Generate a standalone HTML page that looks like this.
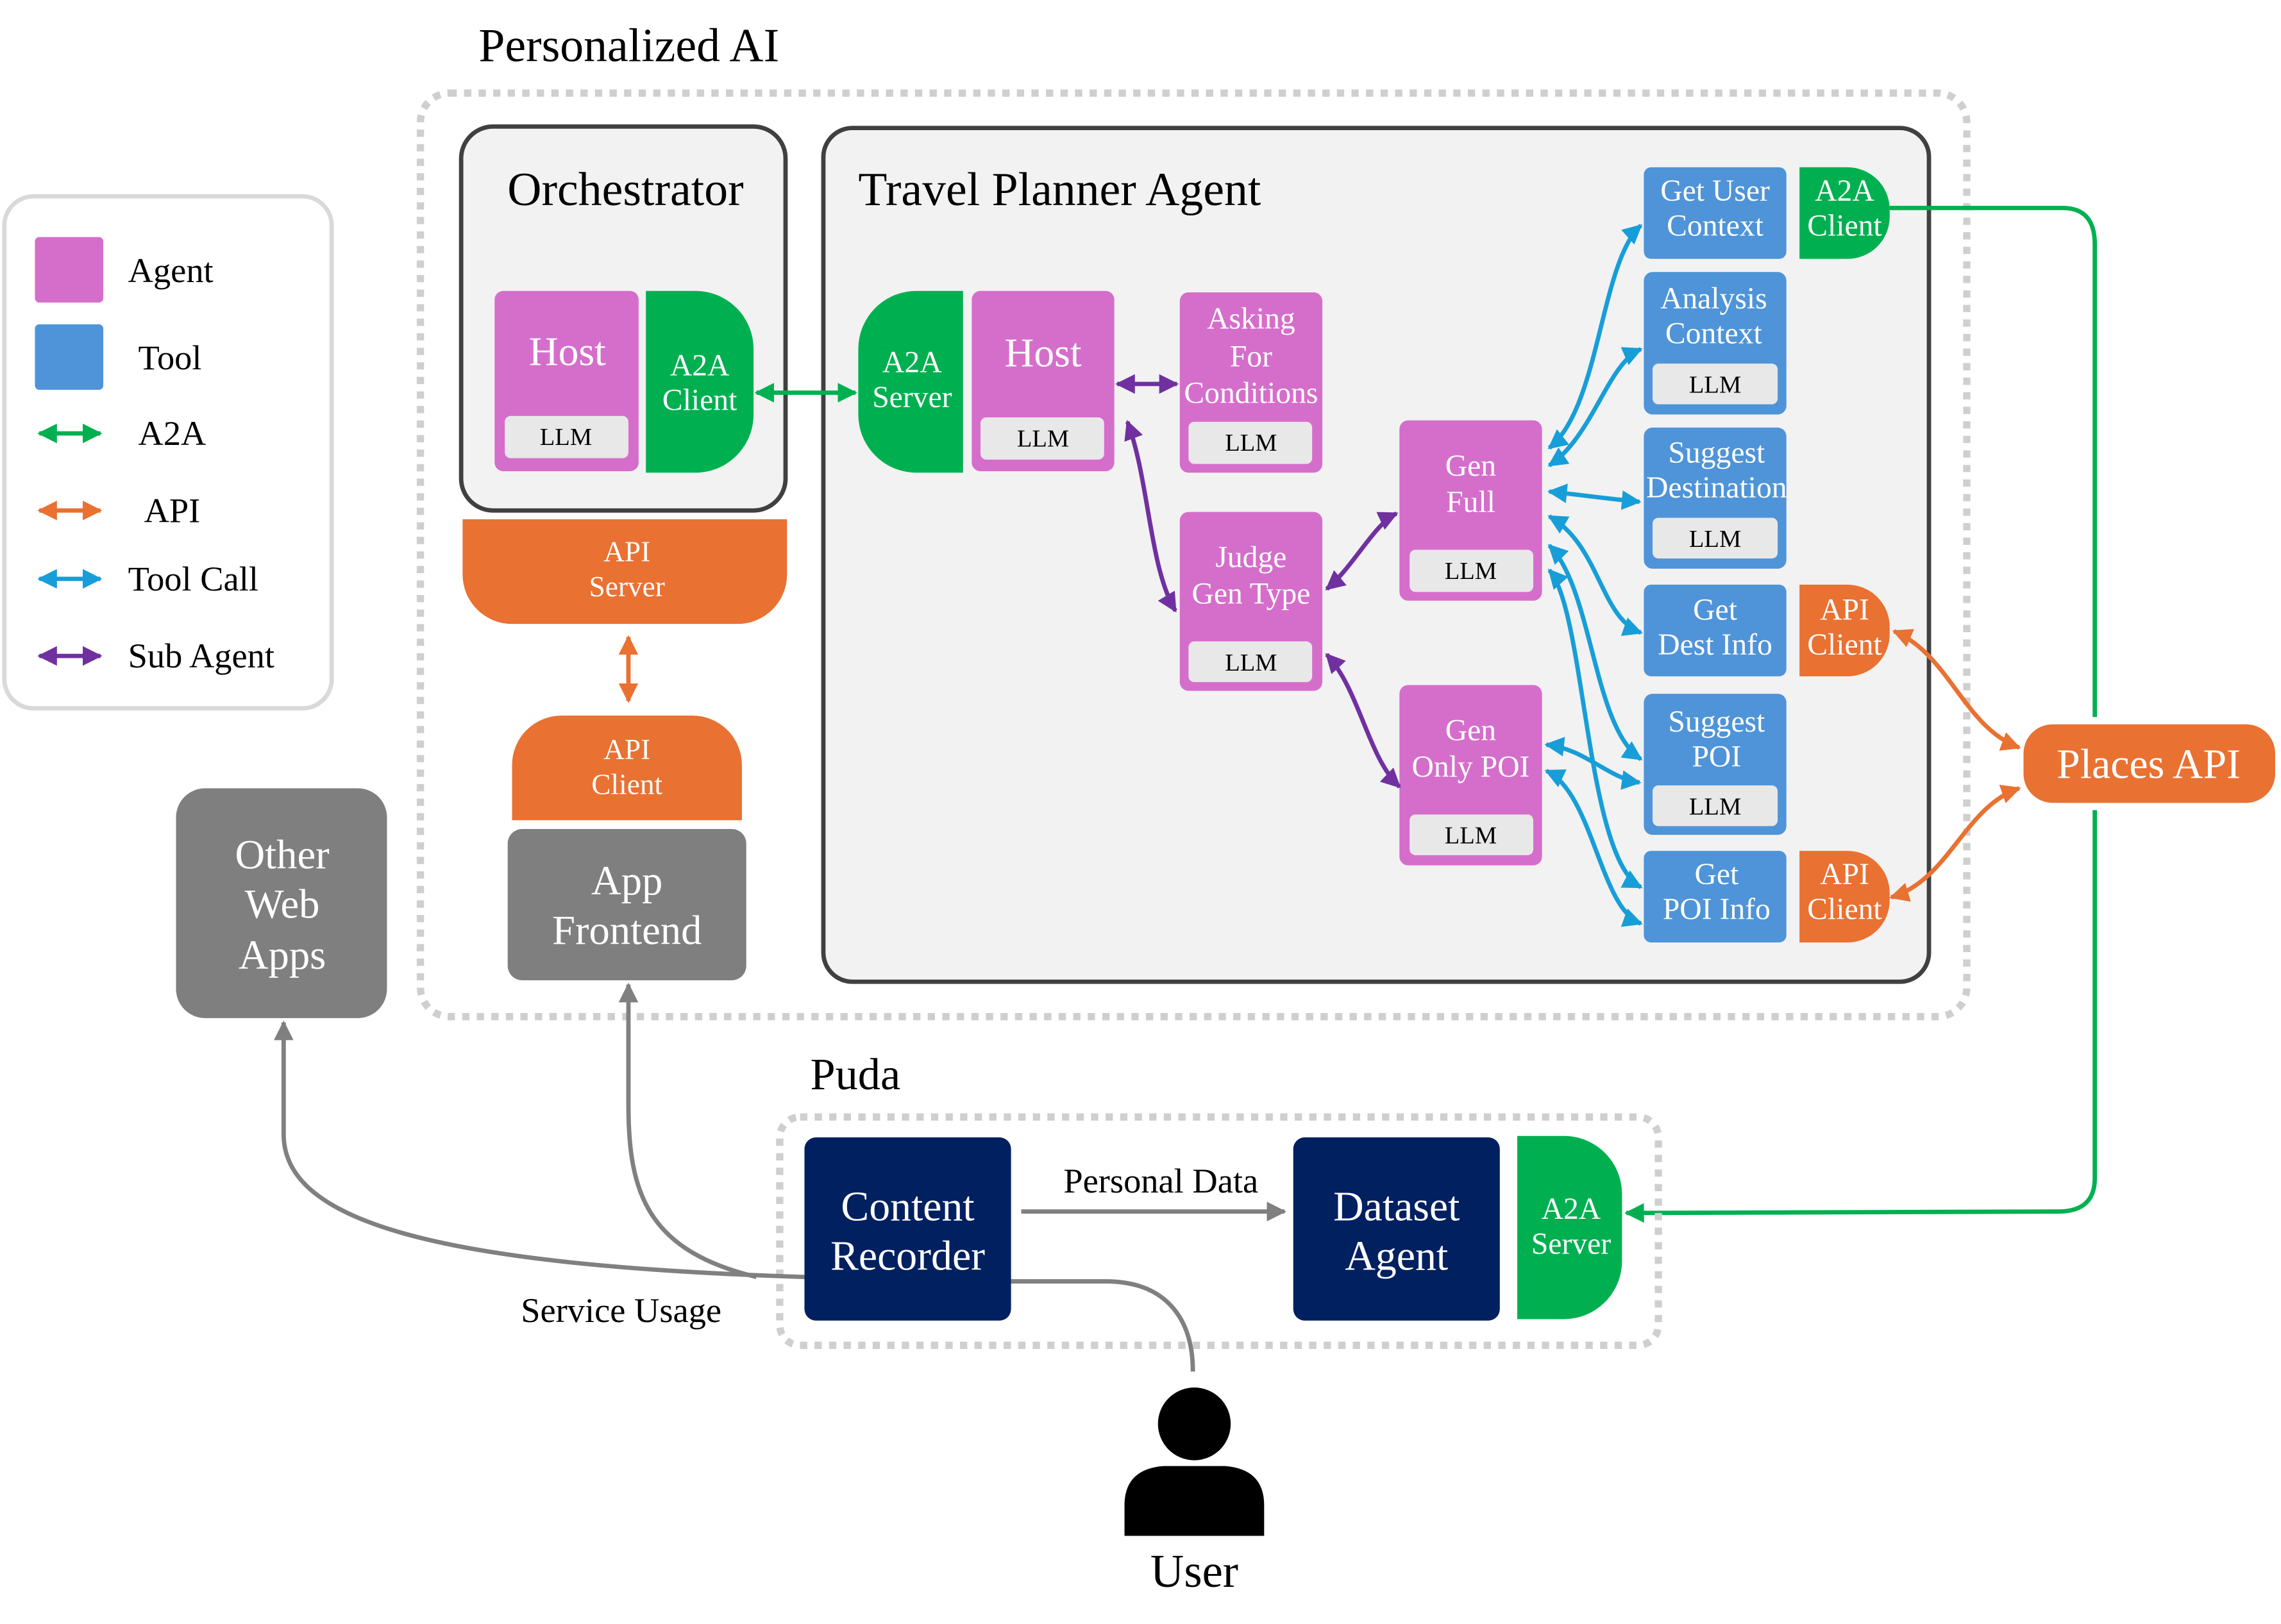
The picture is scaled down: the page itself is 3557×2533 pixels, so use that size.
<!DOCTYPE html>
<html><head><meta charset="utf-8"><style>
html,body{margin:0;padding:0;background:#fff}
svg{display:block}
text{font-family:"Liberation Serif",serif}
</style></head><body>
<svg width="3557" height="2533" viewBox="0 0 1568 1116.6" xmlns="http://www.w3.org/2000/svg">
<defs>
<marker id="g" viewBox="0 0 10 10" refX="9" refY="5" markerWidth="4.5" markerHeight="4.5" orient="auto-start-reverse" markerUnits="strokeWidth"><path d="M0,0L10,5L0,10z" fill="#00b050"/></marker>
<marker id="o" viewBox="0 0 10 10" refX="9" refY="5" markerWidth="4.5" markerHeight="4.5" orient="auto-start-reverse" markerUnits="strokeWidth"><path d="M0,0L10,5L0,10z" fill="#e97132"/></marker>
<marker id="b" viewBox="0 0 10 10" refX="9" refY="5" markerWidth="4.5" markerHeight="4.5" orient="auto-start-reverse" markerUnits="strokeWidth"><path d="M0,0L10,5L0,10z" fill="#179ed8"/></marker>
<marker id="p" viewBox="0 0 10 10" refX="9" refY="5" markerWidth="4.5" markerHeight="4.5" orient="auto-start-reverse" markerUnits="strokeWidth"><path d="M0,0L10,5L0,10z" fill="#7030a0"/></marker>
<marker id="k" viewBox="0 0 10 10" refX="9" refY="5" markerWidth="4.5" markerHeight="4.5" orient="auto-start-reverse" markerUnits="strokeWidth"><path d="M0,0L10,5L0,10z" fill="#808080"/></marker>
</defs>
<rect width="1568" height="1117" fill="#fff"/>

<!-- Legend -->
<rect x="3" y="135" width="225" height="352" rx="20" fill="#fff" stroke="#d9d9d9" stroke-width="3"/>
<rect x="24" y="163" width="47" height="45" rx="3" fill="#d56ecb"/>
<rect x="24" y="223" width="47" height="45" rx="3" fill="#4f94d8"/>
<g font-size="24" fill="#000">
<text x="88" y="194">Agent</text><text x="95" y="254">Tool</text>
<text x="95" y="306">A2A</text><text x="99" y="359">API</text>
<text x="88" y="406">Tool Call</text><text x="88" y="459">Sub Agent</text></g>
<g stroke-width="3" fill="none">
<path d="M27,298H69" stroke="#00b050" marker-start="url(#g)" marker-end="url(#g)"/>
<path d="M27,351H69" stroke="#e97132" marker-start="url(#o)" marker-end="url(#o)"/>
<path d="M27,398H69" stroke="#179ed8" marker-start="url(#b)" marker-end="url(#b)"/>
<path d="M27,451H69" stroke="#7030a0" marker-start="url(#p)" marker-end="url(#p)"/>
</g>

<!-- Personalized AI -->
<text x="329" y="42" font-size="32.5">Personalized AI</text>
<rect x="289" y="64" width="1063" height="635" rx="20" fill="none" stroke="#cfcfcf" stroke-width="5" stroke-dasharray="5 5"/>

<!-- Orchestrator -->
<rect x="317" y="87" width="223" height="264" rx="22" fill="#f2f2f2" stroke="#404040" stroke-width="3"/>
<text x="430" y="141" font-size="32.5" text-anchor="middle">Orchestrator</text>
<rect x="340" y="200" width="99" height="124" rx="6" fill="#d56ecb"/>
<text x="390" y="251" font-size="28" fill="#fff" text-anchor="middle">Host</text>
<rect x="347" y="286" width="85" height="29" rx="4" fill="#e8e8e8"/>
<text x="389" y="306" font-size="17" text-anchor="middle">LLM</text>
<path d="M444,200H478A40,40 0 0 1 518,240V285A40,40 0 0 1 478,325H444Z" fill="#00b050"/>
<text x="481" y="258" font-size="21" fill="#fff" text-anchor="middle">A2A</text>
<text x="481" y="282" font-size="21" fill="#fff" text-anchor="middle">Client</text>

<path d="M318,357H541V395A34,34 0 0 1 507,429H352A34,34 0 0 1 318,395Z" fill="#e97132"/>
<text x="431" y="386" font-size="20" fill="#fff" text-anchor="middle">API</text>
<text x="431" y="410" font-size="20" fill="#fff" text-anchor="middle">Server</text>
<path d="M432,438V482" stroke="#e97132" stroke-width="3" marker-start="url(#o)" marker-end="url(#o)"/>
<path d="M352,564V526A34,34 0 0 1 386,492H476A34,34 0 0 1 510,526V564Z" fill="#e97132"/>
<text x="431" y="522" font-size="20" fill="#fff" text-anchor="middle">API</text>
<text x="431" y="546" font-size="20" fill="#fff" text-anchor="middle">Client</text>
<rect x="349" y="570" width="164" height="104" rx="10" fill="#7f7f7f"/>
<text x="431" y="615" font-size="28.5" fill="#fff" text-anchor="middle">App</text>
<text x="431" y="649" font-size="28.5" fill="#fff" text-anchor="middle">Frontend</text>

<rect x="121" y="542" width="145" height="158" rx="20" fill="#7f7f7f"/>
<text x="194" y="597" font-size="28.5" fill="#fff" text-anchor="middle">Other</text>
<text x="194" y="631" font-size="28.5" fill="#fff" text-anchor="middle">Web</text>
<text x="194" y="666" font-size="28.5" fill="#fff" text-anchor="middle">Apps</text>

<!-- Travel Planner -->
<rect x="566" y="88" width="760" height="587" rx="20" fill="#f2f2f2" stroke="#404040" stroke-width="3"/>
<text x="590" y="141" font-size="32.5">Travel Planner Agent</text>
<path d="M520,270H588" stroke="#00b050" stroke-width="3" marker-start="url(#g)" marker-end="url(#g)"/>
<path d="M662,200H630A40,40 0 0 0 590,240V285A40,40 0 0 0 630,325H662Z" fill="#00b050"/>
<text x="627" y="256" font-size="21" fill="#fff" text-anchor="middle">A2A</text>
<text x="627" y="280" font-size="21" fill="#fff" text-anchor="middle">Server</text>
<rect x="668" y="200" width="98" height="124" rx="6" fill="#d56ecb"/>
<text x="717" y="252" font-size="28" fill="#fff" text-anchor="middle">Host</text>
<rect x="674" y="287" width="85" height="29" rx="4" fill="#e8e8e8"/>
<text x="717" y="307" font-size="17" text-anchor="middle">LLM</text>

<g font-size="21" fill="#fff" text-anchor="middle">
<rect x="811" y="201" width="98" height="124" rx="6" fill="#d56ecb"/>
<text x="860" y="226">Asking</text><text x="860" y="252">For</text><text x="860" y="277">Conditions</text>
<rect x="811" y="352" width="98" height="123" rx="6" fill="#d56ecb"/>
<text x="860" y="390">Judge</text><text x="860" y="415">Gen Type</text>
<rect x="962" y="289" width="98" height="124" rx="6" fill="#d56ecb"/>
<text x="1011" y="327">Gen</text><text x="1011" y="352">Full</text>
<rect x="962" y="471" width="98" height="124" rx="6" fill="#d56ecb"/>
<text x="1011" y="509">Gen</text><text x="1011" y="534">Only POI</text>

<rect x="1130" y="115" width="98" height="63" rx="5" fill="#4f94d8"/>
<text x="1179" y="138">Get User</text><text x="1179" y="162">Context</text>
<rect x="1130" y="187" width="98" height="98" rx="6" fill="#4f94d8"/>
<text x="1178" y="212">Analysis</text><text x="1178" y="236">Context</text>
<rect x="1130" y="294" width="98" height="97" rx="6" fill="#4f94d8"/>
<text x="1180" y="318">Suggest</text><text x="1180" y="342">Destination</text>
<rect x="1130" y="402" width="98" height="63" rx="5" fill="#4f94d8"/>
<text x="1179" y="426">Get</text><text x="1179" y="450">Dest Info</text>
<rect x="1130" y="477" width="98" height="97" rx="6" fill="#4f94d8"/>
<text x="1180" y="503">Suggest</text><text x="1180" y="527">POI</text>
<rect x="1130" y="585" width="98" height="63" rx="5" fill="#4f94d8"/>
<text x="1180" y="608">Get</text><text x="1180" y="632">POI Info</text>

<path d="M1237,115H1270A29,29 0 0 1 1299,144V149A29,29 0 0 1 1270,178H1237Z" fill="#00b050"/>
<text x="1268" y="138">A2A</text><text x="1268" y="162">Client</text>
<path d="M1237,402H1270A29,29 0 0 1 1299,431V436A29,29 0 0 1 1270,465H1237Z" fill="#e97132"/>
<text x="1268" y="426">API</text><text x="1268" y="450">Client</text>
<path d="M1237,585H1270A29,29 0 0 1 1299,614V619A29,29 0 0 1 1270,648H1237Z" fill="#e97132"/>
<text x="1268" y="608">API</text><text x="1268" y="632">Client</text>
</g>
<g fill="#e8e8e8">
<rect x="817" y="290" width="85" height="29" rx="4"/>
<rect x="817" y="441" width="85" height="28" rx="4"/>
<rect x="969" y="378" width="85" height="29" rx="4"/>
<rect x="969" y="560" width="85" height="28" rx="4"/>
<rect x="1136" y="250" width="86" height="28" rx="4"/>
<rect x="1136" y="356" width="86" height="28" rx="4"/>
<rect x="1136" y="540" width="86" height="28" rx="4"/>
</g>
<g font-size="17" text-anchor="middle">
<text x="860" y="310">LLM</text><text x="860" y="461">LLM</text>
<text x="1011" y="398">LLM</text><text x="1011" y="580">LLM</text>
<text x="1179" y="270">LLM</text><text x="1179" y="376">LLM</text><text x="1179" y="560">LLM</text>
</g>

<!-- purple -->
<g stroke="#7030a0" stroke-width="3" fill="none" marker-start="url(#p)" marker-end="url(#p)">
<path d="M768,264H809"/>
<path d="M775,290C790,330 790,390 808,420"/>
<path d="M912,405C930,390 945,360 960,353"/>
<path d="M912,450C935,475 940,520 962,541"/>
</g>
<!-- blue -->
<g stroke="#179ed8" stroke-width="3" fill="none" marker-start="url(#b)" marker-end="url(#b)">
<path d="M1065,308C1100,280 1100,180 1128,155"/>
<path d="M1065,320C1095,300 1105,250 1128,240"/>
<path d="M1065,338C1085,340 1105,343 1127,345"/>
<path d="M1065,355C1100,375 1100,425 1128,435"/>
<path d="M1065,375C1095,405 1095,500 1128,522"/>
<path d="M1065,392C1090,420 1090,590 1128,610"/>
<path d="M1063,512C1090,515 1105,535 1127,538"/>
<path d="M1063,530C1095,545 1100,625 1128,635"/>
</g>
<!-- orange to Places -->
<g stroke="#e97132" stroke-width="3" fill="none" marker-start="url(#o)" marker-end="url(#o)">
<path d="M1302,434C1340,450 1350,500 1388,514"/>
<path d="M1388,542C1350,555 1340,605 1300,617"/>
</g>
<!-- green -->
<path d="M1299,143H1418Q1440,143 1440,168V493" stroke="#00b050" stroke-width="3" fill="none"/>
<path d="M1440,557V810Q1440,833 1415,833L1118,834" stroke="#00b050" stroke-width="3" fill="none" marker-end="url(#g)"/>

<rect x="1391" y="498" width="173" height="54" rx="20" fill="#e97132"/>
<text x="1477" y="535" font-size="29" fill="#fff" text-anchor="middle">Places API</text>

<!-- Puda -->
<text x="557" y="749" font-size="31">Puda</text>
<rect x="536" y="768" width="604" height="157" rx="14" fill="none" stroke="#cfcfcf" stroke-width="5" stroke-dasharray="5 5"/>
<path d="M553,878C300,870 195,840 195,780V703" stroke="#808080" stroke-width="3" fill="none" marker-end="url(#k)"/>
<path d="M520,878C445,860 432,820 432,760V677" stroke="#808080" stroke-width="3" fill="none" marker-end="url(#k)"/>
<path d="M695,881H760C800,881 820,905 820,943" stroke="#808080" stroke-width="3" fill="none"/>
<rect x="553" y="782" width="142" height="126" rx="8" fill="#002060"/>
<text x="624" y="839" font-size="29" fill="#fff" text-anchor="middle">Content</text>
<text x="624" y="873" font-size="29" fill="#fff" text-anchor="middle">Recorder</text>
<path d="M702,833H883" stroke="#808080" stroke-width="3" marker-end="url(#k)"/>
<text x="798" y="820" font-size="24" text-anchor="middle">Personal Data</text>
<rect x="889" y="782" width="142" height="126" rx="8" fill="#002060"/>
<text x="960" y="839" font-size="29" fill="#fff" text-anchor="middle">Dataset</text>
<text x="960" y="873" font-size="29" fill="#fff" text-anchor="middle">Agent</text>
<path d="M1043,781H1075A40,40 0 0 1 1115,821V867A40,40 0 0 1 1075,907H1043Z" fill="#00b050"/>
<text x="1080" y="838" font-size="21" fill="#fff" text-anchor="middle">A2A</text>
<text x="1080" y="862" font-size="21" fill="#fff" text-anchor="middle">Server</text>
<text x="427" y="909" font-size="24" text-anchor="middle">Service Usage</text>

<!-- User -->
<circle cx="821" cy="979" r="25" fill="#000"/>
<path d="M773,1056V1035Q773,1010 800,1008H842Q869,1010 869,1035V1056Z" fill="#000"/>
<text x="821" y="1091" font-size="32" text-anchor="middle">User</text>
</svg>
</body></html>
